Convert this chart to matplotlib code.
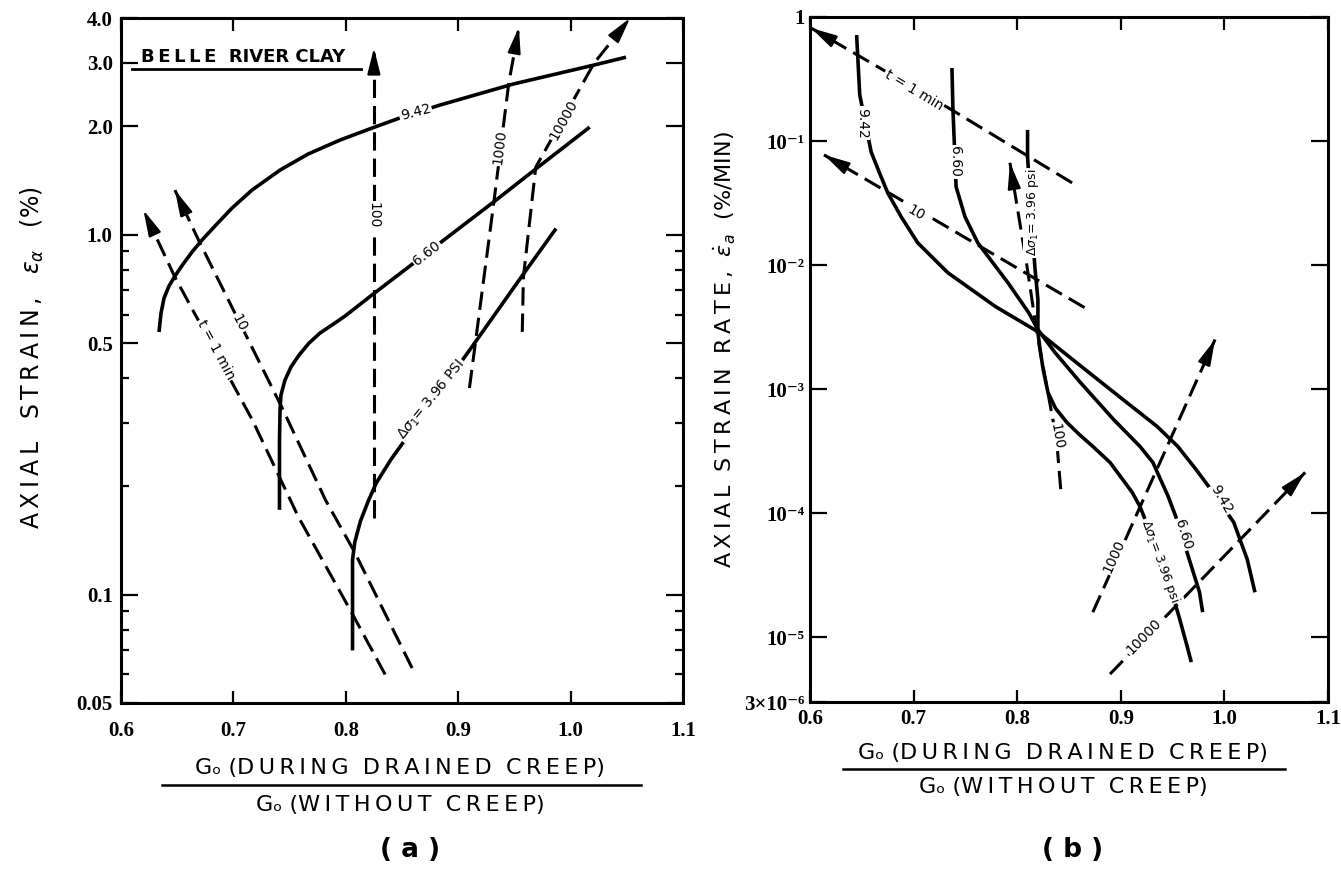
import numpy as np
import matplotlib.pyplot as plt
from matplotlib.lines import Line2D
from matplotlib.ticker import NullLocator, NullFormatter

# ---------- (a) axial strain (%) vs Go ratio ----------
a_942_x = [0.6338, 0.6356, 0.6383, 0.6427, 0.648, 0.6552, 0.6632, 0.6712, 0.6836, 0.6988, 0.7165, 0.7415,
           0.7664, 0.7948, 0.8233, 0.8527, 0.8838, 0.9488, 1.0208, 1.0493]
a_942_y = [0.5365, 0.6058, 0.6668, 0.720, 0.7675, 0.8286, 0.895, 0.9601, 1.057, 1.186, 1.33, 1.512,
           1.675, 1.832, 1.978, 2.136, 2.292, 2.621, 2.96, 3.113]
a_660_x = [0.741, 0.741, 0.7415, 0.7423, 0.7459, 0.7512, 0.7584, 0.7673, 0.777, 0.7877, 0.7993, 0.8233, 0.850,
           0.8954, 0.934, 0.971, 1.017]
a_660_y = [0.172, 0.269, 0.326, 0.3586, 0.3947, 0.429, 0.463, 0.500, 0.533, 0.5611, 0.5943, 0.680, 0.7875,
           1.011, 1.25, 1.54, 1.99]
a_396_x = [0.806, 0.806, 0.806, 0.808, 0.813, 0.820, 0.827, 0.840, 0.912, 0.956, 0.987]
a_396_y = [0.070, 0.0998, 0.125, 0.140, 0.160, 0.182, 0.204, 0.237, 0.487, 0.762, 1.04]

# time contours (min), last point = arrow tip
a_t1_x = [0.835, 0.804, 0.758, 0.717, 0.648, 0.620]
a_t1_y = [0.060, 0.0906, 0.164, 0.305, 0.762, 1.17]
a_t10_x = [0.859, 0.808, 0.782, 0.743, 0.669, 0.648]
a_t10_y = [0.0625, 0.131, 0.183, 0.332, 0.966, 1.33]
a_t100_x = [0.825, 0.825]
a_t100_y = [0.163, 3.30]
a_t1000_x = [0.910, 0.932, 0.945, 0.954]
a_t1000_y = [0.375, 1.25, 2.64, 3.77]
a_t10000_x = [0.957, 0.958, 0.969, 1.021, 1.053]
a_t10000_y = [0.537, 0.762, 1.54, 3.0, 4.0]

# ---------- (b) axial strain rate (%/min) vs Go ratio ----------
b_942_x = [0.645, 0.648, 0.659, 0.667, 0.675, 0.688, 0.704, 0.733, 0.779, 0.820, 0.857, 0.902, 0.935, 0.955,
           0.9726, 0.989, 1.009, 1.022, 1.0295]
b_942_y = [0.716, 0.236, 0.0818, 0.0555, 0.0383, 0.0245, 0.0151, 0.00868, 0.00463, 0.0029, 0.00164, 8.25e-4,
           5.0e-4, 3.45e-4, 2.25e-4, 1.47e-4, 8.43e-5, 4.25e-5, 2.30e-5]
b_660_x = [0.737, 0.738, 0.741, 0.7496, 0.762, 0.791, 0.811, 0.820, 0.8365, 0.861, 0.893, 0.9185, 0.931, 0.9456,
           0.953, 0.966, 0.976, 0.979]
b_660_y = [0.388, 0.178, 0.0428, 0.0245, 0.0151, 0.00721, 0.00414, 0.00302, 0.00197, 0.00113, 5.69e-4, 3.45e-4,
           2.56e-4, 1.37e-4, 9.42e-5, 4.25e-5, 2.30e-5, 1.59e-5]
b_396_x = [0.810, 0.810, 0.817, 0.820, 0.820, 0.822, 0.825, 0.8297, 0.837, 0.848, 0.860, 0.873, 0.8896, 0.911,
           0.9185, 0.9427, 0.956, 0.964, 0.968]
b_396_y = [0.123, 0.0746, 0.0097, 0.00526, 0.00286, 0.0021, 0.00145, 9.39e-4, 7.0e-4, 5.38e-4, 4.3e-4, 3.45e-4,
           2.56e-4, 1.47e-4, 1.13e-4, 3.53e-5, 1.48e-5, 8.47e-6, 6.29e-6]

b_t1_x = [0.853, 0.737, 0.601]
b_t1_y = [0.046, 0.178, 0.815]
b_t10_x = [0.865, 0.6135]
b_t10_y = [0.00454, 0.0774]
b_t100_x = [0.842, 0.838, 0.8278, 0.819, 0.8095, 0.793]
b_t100_y = [1.56e-4, 3.93e-4, 1.13e-3, 2.86e-3, 9.7e-3, 0.0668]
b_t1000_x = [0.873, 0.991]
b_t1000_y = [1.59e-5, 2.51e-3]
b_t10000_x = [0.8896, 1.078]
b_t10000_y = [5.04e-6, 2.13e-4]

x_ticks = [0.6, 0.7, 0.8, 0.9, 1.0, 1.1]
x_tick_labels = ["0.6", "0.7", "0.8", "0.9", "1.0", "1.1"]
a_yticks = [0.05, 0.1, 0.5, 1.0, 2.0, 3.0, 4.0]
a_ytick_labels = ["0.05", "0.1", "0.5", "1.0", "2.0", "3.0", "4.0"]
a_yminor = [0.06, 0.07, 0.08, 0.09, 0.2, 0.3, 0.4, 0.6, 0.7, 0.8, 0.9]
b_yticks = [3e-6, 1e-5, 1e-4, 1e-3, 1e-2, 1e-1, 1.0]
b_ytick_labels = ["3\u00d710\u207b\u2076", "10\u207b\u2075", "10\u207b\u2074", "10\u207b\u00b3",
                  "10\u207b\u00b2", "10\u207b\u00b9", "1"]

TICKFONT = ["Liberation Serif", "DejaVu Serif"]
SANS = ["DejaVu Sans"]


def spaced(s, gap="\u2009"):
    return gap.join(s)


def curve(ax, x, y):
    ax.plot(x, y, color="k", lw=2.6, solid_capstyle="butt", solid_joinstyle="round", zorder=3)


def dashed(ax, x, y):
    ax.plot(x, y, color="k", lw=2.2, ls=(0, (6, 2.6)), zorder=2)
    tip = ax.transData.transform((x[-1], y[-1]))
    prev = ax.transData.transform((x[-2], y[-2]))
    d = (tip - prev) / np.hypot(*(tip - prev))
    base = ax.transData.inverted().transform(tip - d * 12)
    ax.annotate("", xy=(x[-1], y[-1]), xytext=base,
                arrowprops=dict(arrowstyle="-|>,head_length=0.8,head_width=0.2", color="k",
                                lw=1.5, shrinkA=0, shrinkB=0, mutation_scale=20),
                annotation_clip=False, zorder=4)


def label(ax, x, y, s, rot, size=10):
    ax.text(x, y, s, rotation=rot, rotation_mode="anchor", ha="center", va="center",
            fontsize=size, family=SANS, zorder=5,
            bbox=dict(facecolor="white", edgecolor="none", pad=1.0))


def style_axes(ax):
    for sp in ax.spines.values():
        sp.set_linewidth(2.2)
    ax.set_xlim(0.6, 1.1)
    ax.tick_params(which="both", direction="in", top=True, right=True, width=1.6)
    ax.tick_params(which="major", length=12)
    ax.tick_params(which="minor", length=6)
    ax.tick_params(axis="x", which="major", length=9)


fig = plt.figure(figsize=(13.41, 8.69), dpi=100)

# ---------------- panel (a) ----------------
ax1 = fig.add_axes([121 / 1341, 166 / 869, 562 / 1341, 685 / 869])
style_axes(ax1)
ax1.set_yscale("log")
ax1.set_ylim(0.05, 4.0)
ax1.set_xticks(x_ticks, x_tick_labels, fontsize=15, fontweight="bold", family=TICKFONT)
ax1.set_yticks(a_yticks, a_ytick_labels, fontsize=15, fontweight="bold", family=TICKFONT)
ax1.set_yticks(a_yminor, minor=True)
ax1.yaxis.set_minor_formatter(NullFormatter())
ax1.tick_params(axis="x", pad=13)
ax1.tick_params(axis="y", pad=6)

curve(ax1, a_942_x, a_942_y)
curve(ax1, a_660_x, a_660_y)
curve(ax1, a_396_x, a_396_y)
for xs, ys in [(a_t1_x, a_t1_y), (a_t10_x, a_t10_y), (a_t100_x, a_t100_y),
               (a_t1000_x, a_t1000_y), (a_t10000_x, a_t10000_y)]:
    dashed(ax1, xs, ys)

label(ax1, 0.862, 2.19, "9.42", 15)
label(ax1, 0.872, 0.889, "6.60", 38)
label(ax1, 0.876, 0.348, r"$\Delta\sigma_1$= 3.96 PSI", 51)
label(ax1, 0.6845, 0.479, "t = 1 min", -62)
label(ax1, 0.705, 0.569, "10", -62)
label(ax1, 0.825, 1.13, "100", -90)
label(ax1, 0.937, 1.75, "1000", 83)
label(ax1, 0.994, 2.08, "10000", 61)

ax1.text(0.036, 0.943, spaced("BELLE") + "  RIVER CLAY", transform=ax1.transAxes,
         ha="left", va="center", fontsize=13, fontweight="bold", family=SANS)
ax1.plot([0.02, 0.427], [0.925, 0.925], transform=ax1.transAxes, color="k", lw=2)

# ---------------- panel (b) ----------------
ax2 = fig.add_axes([810 / 1341, 167 / 869, 518 / 1341, 685 / 869])
style_axes(ax2)
ax2.set_yscale("log")
ax2.set_ylim(3e-6, 1.0)
ax2.set_xticks(x_ticks, x_tick_labels, fontsize=15, fontweight="bold", family=TICKFONT)
ax2.set_yticks(b_yticks, b_ytick_labels, fontsize=15, fontweight="bold", family=TICKFONT)
ax2.yaxis.set_minor_locator(NullLocator())
ax2.tick_params(axis="x", pad=5)
ax2.tick_params(axis="y", pad=4)

curve(ax2, b_942_x, b_942_y)
curve(ax2, b_660_x, b_660_y)
curve(ax2, b_396_x, b_396_y)
for xs, ys in [(b_t1_x, b_t1_y), (b_t10_x, b_t10_y), (b_t100_x, b_t100_y),
               (b_t1000_x, b_t1000_y), (b_t10000_x, b_t10000_y)]:
    dashed(ax2, xs, ys)

label(ax2, 0.700, 0.258, "t = 1 min", -31)
label(ax2, 0.702, 0.0264, "10", -30)
label(ax2, 0.650, 0.140, "9.42", -90)
label(ax2, 0.740, 0.068, "6.60", -90)
label(ax2, 0.815, 0.0264, r"$\Delta\sigma_1$= 3.96 psi", 90, size=9)
label(ax2, 0.838, 4.15e-4, "100", -80)
label(ax2, 0.893, 4.49e-5, "1000", 66)
label(ax2, 0.922, 1.02e-5, "10000", 46)
label(ax2, 0.997, 1.29e-4, "9.42", -60)
label(ax2, 0.960, 6.75e-5, "6.60", -73)
label(ax2, 0.938, 4.09e-5, r"$\Delta\sigma_1$= 3.96 psi", -70, size=9)

# ---------------- axis titles ----------------
ylab_a = spaced("AXIAL") + "   " + spaced("STRAIN,") + "   " + r"$\epsilon_{\alpha}$" + "   (%)"
fig.text(32 / 1341, 1 - 358 / 869, ylab_a, rotation=90, ha="center", va="center",
         fontsize=17, family=SANS)
ylab_b = (spaced("AXIAL") + "  " + spaced("STRAIN") + "  " + spaced("RATE,") + "  "
          + r"$\dot{\epsilon}_a$" + "  (%/MIN)")
fig.text(725 / 1341, 1 - 350 / 869, ylab_b, rotation=90, ha="center", va="center",
         fontsize=16, family=SANS)

top_line = "G\u2092 (" + spaced("DURING") + "  " + spaced("DRAINED") + "  " + spaced("CREEP") + ")"
bot_line = "G\u2092 (" + spaced("WITHOUT") + "  " + spaced("CREEP") + ")"

for cx, y1, ybar, y2, x0, x1, tag in [(400, 768, 785, 805, 162, 641, "a"),
                                      (1063, 753, 769, 787, 843, 1285, "b")]:
    fig.text(cx / 1341, 1 - y1 / 869, top_line, ha="center", va="center", fontsize=16, family=SANS)
    fig.add_artist(Line2D([x0 / 1341, x1 / 1341], [1 - ybar / 869, 1 - ybar / 869],
                          color="k", lw=1.8, transform=fig.transFigure))
    fig.text(cx / 1341, 1 - y2 / 869, bot_line, ha="center", va="center", fontsize=16, family=SANS)
    fig.text((cx + 10) / 1341, 1 - 850 / 869, "( " + tag + " )", ha="center", va="center",
             fontsize=19, fontweight="bold", family=SANS)

fig.savefig("out.png", dpi=100)
